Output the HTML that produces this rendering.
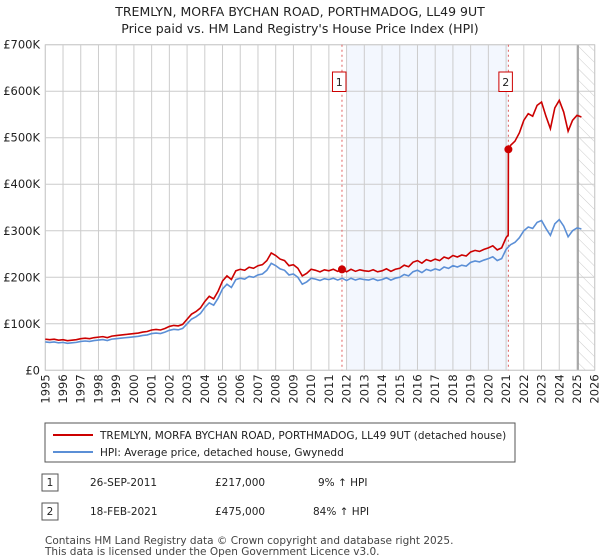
<!DOCTYPE html>
<html><head><meta charset="utf-8"><style>
body{margin:0;background:#fff;font-family:"DejaVu Sans","Liberation Sans",sans-serif;}
svg{display:block}
</style></head><body>
<svg id="c" width="600" height="560" xmlns="http://www.w3.org/2000/svg">
<text x="300" y="16" text-anchor="middle" font-size="12.5" fill="#222">TREMLYN, MORFA BYCHAN ROAD, PORTHMADOG, LL49 9UT</text>
<text x="300" y="33" text-anchor="middle" font-size="12.5" fill="#222">Price paid vs. HM Land Registry's House Price Index (HPI)</text>
<g id="plot"></g>
<g>
<rect x="45" y="423" width="470" height="39" fill="#fff" stroke="#555"/>
<line x1="53" y1="435" x2="93" y2="435" stroke="#cc0000" stroke-width="2"/>
<text x="100" y="439" font-size="10.5" fill="#222">TREMLYN, MORFA BYCHAN ROAD, PORTHMADOG, LL49 9UT (detached house)</text>
<line x1="53" y1="452" x2="93" y2="452" stroke="#5b8fd6" stroke-width="2"/>
<text x="100" y="456" font-size="10.5" fill="#222">HPI: Average price, detached house, Gwynedd</text>
</g>
<g font-size="10.5" fill="#222">
<rect x="42" y="474" width="16" height="17" fill="#fff" stroke="#555"/><text x="50" y="486" text-anchor="middle">1</text>
<text x="90" y="486">26-SEP-2011</text><text x="215" y="486">£217,000</text><text x="318" y="486">9% ↑ HPI</text>
<rect x="42" y="503" width="16" height="17" fill="#fff" stroke="#555"/><text x="50" y="515" text-anchor="middle">2</text>
<text x="90" y="515">18-FEB-2021</text><text x="215" y="515">£475,000</text><text x="313" y="515">84% ↑ HPI</text>
</g>
<text x="45" y="544" font-size="10.5" fill="#444">Contains HM Land Registry data © Crown copyright and database right 2025.</text>
<text x="45" y="555" font-size="10.5" fill="#444">This data is licensed under the Open Government Licence v3.0.</text>
</svg>
<script>
const hpiStart = 1995;
const hpiValues = [61,60,61,59, 60,58,59,60, 62,63,62,64, 65,66,64,67, 68,69,70,71, 72,73,75,76, 79,80,79,82, 86,88,87,90, 100,110,115,122, 135,145,140,155, 175,185,178,195, 198,196,202,200, 205,207,215,230, 225,218,215,205, 207,200,185,190, 198,196,193,197, 195,198,194,198, 193,198,194,197, 195,194,197,193, 195,199,194,198, 200,206,203,212, 215,210,217,214, 218,215,222,219, 225,222,226,224, 232,235,233,237, 240,244,236,240, 260,270,275,285, 300,308,305,318, 322,305,290,315, 324,310,287,300, 306,304];
const saleDates = [2011.74, 2021.13];
const salePrices = [217, 475];
const saleLabels = ["1","2"];
const yTicks = [0,100,200,300,400,500,600,700];
const yTickLabels = ["£0","£100K","£200K","£300K","£400K","£500K","£600K","£700K"];
const xYears = [1995,1996,1997,1998,1999,2000,2001,2002,2003,2004,2005,2006,2007,2008,2009,2010,2011,2012,2013,2014,2015,2016,2017,2018,2019,2020,2021,2022,2023,2024,2025,2026];
const shadeStart = 2012.0, dataEnd = 2025.06;

const X0=45.3, X1=594.7, Y0=370.3, Y1=44.7;
const xs = t => X0 + (t-1995)/(2026-1995)*(X1-X0);
const ys = v => Y0 - v/700*(Y0-Y1);
const NS="http://www.w3.org/2000/svg";
const g=document.getElementById('plot');
function mk(tag, attrs){const e=document.createElementNS(NS,tag);for(const k in attrs)e.setAttribute(k,attrs[k]);g.appendChild(e);return e;}

let e=mk('rect',{x:xs(shadeStart),y:Y1,width:xs(saleDates[1])-xs(shadeStart),height:Y0-Y1,fill:'#eef3fd',opacity:0.7});


const defs=mk('defs',{});
defs.innerHTML='<pattern id="hatch" width="8" height="8" patternUnits="userSpaceOnUse" patternTransform="rotate(-45)"><line x1="0" y1="0" x2="0" y2="8" stroke="#ccc" stroke-width="1"/></pattern>';
xYears.forEach(yr=>{mk('line',{x1:xs(yr),y1:Y1,x2:xs(yr),y2:Y0,stroke:'#cccccc'});});
yTicks.forEach(v=>{mk('line',{x1:X0,y1:ys(v),x2:X1,y2:ys(v),stroke:'#cccccc'});});
e=mk('rect',{x:xs(dataEnd),y:Y1,width:X1-xs(dataEnd),height:Y0-Y1,fill:'url(#hatch)'});


mk('line',{x1:xs(dataEnd),y1:Y1,x2:xs(dataEnd),y2:Y0,stroke:'#999',"stroke-width":1.5});
mk('rect',{x:X0,y:Y1,width:X1-X0,height:Y0-Y1,fill:'none',stroke:'#cccccc'});

yTicks.forEach((v,i)=>{const t=mk('text',{x:40,y:ys(v)+4,"text-anchor":"end","font-size":"11.5",fill:'#222'});t.textContent=yTickLabels[i];

});
xYears.forEach(yr=>{const t=mk('text',{x:0,y:0,"text-anchor":"end","font-size":"11.5",fill:'#222',transform:`translate(${xs(yr)+4},${Y0+4}) rotate(-90)`});t.textContent=yr;

});

const hpiAt=t=>{const f=(t-hpiStart)*4;const i=Math.min(Math.floor(f),hpiValues.length-2);const r=f-i;return hpiValues[i]*(1-r)+hpiValues[i+1]*r;};
const f1=salePrices[0]/hpiAt(saleDates[0]), f2=salePrices[1]/hpiAt(saleDates[1]);
let bp=[],rp=[];
hpiValues.forEach((v,i)=>{const t=hpiStart+i/4;bp.push(xs(t)+','+ys(v));
 if(t<saleDates[1]) rp.push([t,v*f1]); else rp.push([t,v*f2]);});
rp.push([saleDates[1]-0.01,hpiAt(saleDates[1])*f1]);rp.push([saleDates[1],salePrices[1]]);
rp.sort((a,b)=>a[0]-b[0]);
saleDates.forEach((d,i)=>{mk('line',{x1:xs(d),y1:Y1,x2:xs(d),y2:Y0,stroke:'#e06060',"stroke-dasharray":"2,3"});});
e=mk('polyline',{points:bp.join(' '),fill:'none',stroke:'#5b8fd6',"stroke-width":1.6});


e=mk('polyline',{points:rp.map(p=>xs(p[0])+','+ys(p[1])).join(' '),fill:'none',stroke:'#cc0000',"stroke-width":1.6});


saleDates.forEach((d,i)=>{
 e=mk('circle',{cx:xs(d),cy:ys(salePrices[i]),r:4,fill:'#cc0000'});
 
 
 e=mk('rect',{x:xs(d)-9.5,y:72,width:13.5,height:19.5,fill:'#fff',stroke:'#cc0000'});
 
 
 const t=mk('text',{x:xs(d)-2.7,y:86,"text-anchor":"middle","font-size":"11",fill:'#222'});t.textContent=saleLabels[i];
 
 
});
</script>
</body></html>
